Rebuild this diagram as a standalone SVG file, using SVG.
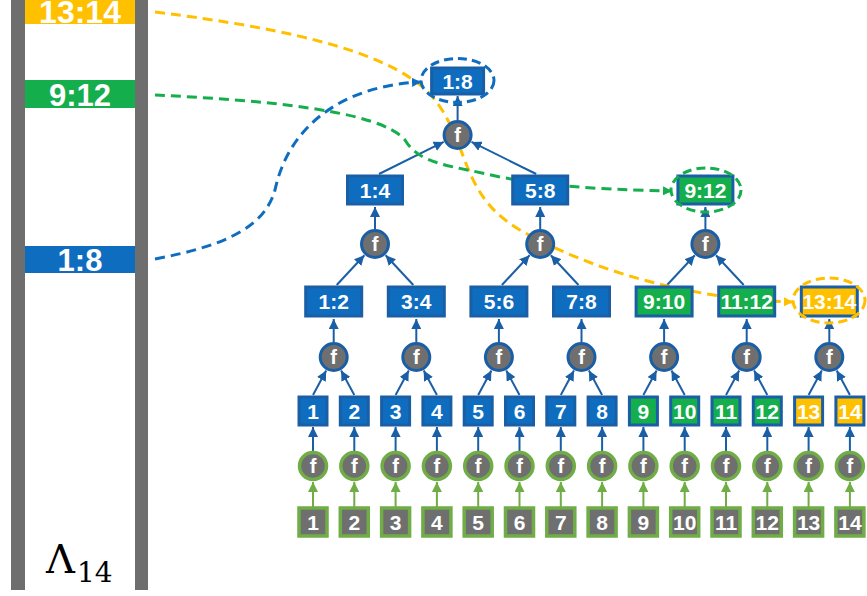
<svg xmlns="http://www.w3.org/2000/svg" width="867" height="596" viewBox="0 0 867 596">
<style>
.bb{fill:#0F6DBF;stroke:#1A5EA6;stroke-width:3}
.bg{fill:#15AE4C;stroke:#1A5EA6;stroke-width:3}
.bo{fill:#FFC000;stroke:#1A5EA6;stroke-width:3}
.bk{fill:#6F6F6F;stroke:#70AD47;stroke-width:3.5}
.fb{fill:#6F6F6F;stroke:#1A5EA6;stroke-width:3}
.fg{fill:#6F6F6F;stroke:#70AD47;stroke-width:3.5}
.t{font-family:"Liberation Sans",Arial,sans-serif;font-weight:bold;fill:#fff;text-anchor:middle}
.s20{font-size:21px}
.s19{font-size:21px}
.sf{font-size:20px}
.e{stroke:#1A5EA6;stroke-width:2;fill:none;marker-end:url(#ab)}
.eg{stroke:#70AD47;stroke-width:2;fill:none;marker-end:url(#ag)}
.d{fill:none;stroke-width:3;stroke-dasharray:10 6}
.el{fill:none;stroke-width:3;stroke-dasharray:9 5}
</style>
<defs>
<marker id="ab" viewBox="0 0 10 10" refX="10" refY="5" markerWidth="10" markerHeight="10" markerUnits="userSpaceOnUse" orient="auto"><path d="M0,0 L10,5 L0,10 z" fill="#1A5EA6"/></marker>
<marker id="ag" viewBox="0 0 10 10" refX="10" refY="5" markerWidth="10" markerHeight="10" markerUnits="userSpaceOnUse" orient="auto"><path d="M0,0 L10,5 L0,10 z" fill="#70AD47"/></marker>
<marker id="mdb" viewBox="0 0 10 10" refX="10" refY="5" markerWidth="9" markerHeight="9" markerUnits="userSpaceOnUse" orient="auto"><path d="M0,0 L10,5 L0,10 z" fill="#0F6DBF"/></marker>
<marker id="mdg" viewBox="0 0 10 10" refX="10" refY="5" markerWidth="9" markerHeight="9" markerUnits="userSpaceOnUse" orient="auto"><path d="M0,0 L10,5 L0,10 z" fill="#15AE4C"/></marker>
<marker id="mdo" viewBox="0 0 10 10" refX="10" refY="5" markerWidth="9" markerHeight="9" markerUnits="userSpaceOnUse" orient="auto"><path d="M0,0 L10,5 L0,10 z" fill="#FFC000"/></marker>
</defs>

<g id="memory">
<rect x="11" y="0" width="14" height="590" fill="#6E6E6E"/>
<rect x="135" y="0" width="13" height="590" fill="#6E6E6E"/>
<rect x="25" y="0" width="110" height="24" fill="#FFC000"/>
<text class="t" x="80" y="23" font-size="32">13:14</text>
<rect x="25" y="80" width="110" height="28" fill="#15AE4C"/>
<text class="t" x="80" y="106" font-size="31">9:12</text>
<rect x="25" y="246" width="110" height="27" fill="#0F6DBF"/>
<text class="t" x="80" y="271" font-size="31">1:8</text>
<text x="46" y="573" font-family="'DejaVu Serif','Liberation Serif',serif" font-size="40" fill="#000">Λ</text>
<text x="77" y="582" font-family="'DejaVu Serif','Liberation Serif',serif" font-size="28" fill="#000">14</text>
</g>

<g id="edges">
<line class="e" x1="313" y1="451" x2="313" y2="427"/>
<line class="e" x1="354.3" y1="451" x2="354.3" y2="427"/>
<line class="e" x1="395.6" y1="451" x2="395.6" y2="427"/>
<line class="e" x1="436.9" y1="451" x2="436.9" y2="427"/>
<line class="e" x1="478.2" y1="451" x2="478.2" y2="427"/>
<line class="e" x1="519.5" y1="451" x2="519.5" y2="427"/>
<line class="e" x1="560.8" y1="451" x2="560.8" y2="427"/>
<line class="e" x1="602.1" y1="451" x2="602.1" y2="427"/>
<line class="e" x1="643.4" y1="451" x2="643.4" y2="427"/>
<line class="e" x1="684.7" y1="451" x2="684.7" y2="427"/>
<line class="e" x1="726" y1="451" x2="726" y2="427"/>
<line class="e" x1="767.3" y1="451" x2="767.3" y2="427"/>
<line class="e" x1="808.6" y1="451" x2="808.6" y2="427"/>
<line class="e" x1="849.9" y1="451" x2="849.9" y2="427"/>
<line class="eg" x1="313" y1="507" x2="313" y2="482"/>
<line class="eg" x1="354.3" y1="507" x2="354.3" y2="482"/>
<line class="eg" x1="395.6" y1="507" x2="395.6" y2="482"/>
<line class="eg" x1="436.9" y1="507" x2="436.9" y2="482"/>
<line class="eg" x1="478.2" y1="507" x2="478.2" y2="482"/>
<line class="eg" x1="519.5" y1="507" x2="519.5" y2="482"/>
<line class="eg" x1="560.8" y1="507" x2="560.8" y2="482"/>
<line class="eg" x1="602.1" y1="507" x2="602.1" y2="482"/>
<line class="eg" x1="643.4" y1="507" x2="643.4" y2="482"/>
<line class="eg" x1="684.7" y1="507" x2="684.7" y2="482"/>
<line class="eg" x1="726" y1="507" x2="726" y2="482"/>
<line class="eg" x1="767.3" y1="507" x2="767.3" y2="482"/>
<line class="eg" x1="808.6" y1="507" x2="808.6" y2="482"/>
<line class="eg" x1="849.9" y1="507" x2="849.9" y2="482"/>
<line class="e" x1="313" y1="395" x2="326.2" y2="370.6"/>
<line class="e" x1="354.3" y1="395" x2="341.1" y2="370.6"/>
<line class="e" x1="395.6" y1="395" x2="408.8" y2="370.6"/>
<line class="e" x1="436.9" y1="395" x2="423.7" y2="370.6"/>
<line class="e" x1="478.2" y1="395" x2="491.4" y2="370.6"/>
<line class="e" x1="519.5" y1="395" x2="506.3" y2="370.6"/>
<line class="e" x1="560.8" y1="395" x2="574" y2="370.6"/>
<line class="e" x1="602.1" y1="395" x2="588.9" y2="370.6"/>
<line class="e" x1="643.4" y1="395" x2="656.6" y2="370.6"/>
<line class="e" x1="684.7" y1="395" x2="671.5" y2="370.6"/>
<line class="e" x1="726" y1="395" x2="739.2" y2="370.6"/>
<line class="e" x1="767.3" y1="395" x2="754.1" y2="370.6"/>
<line class="e" x1="808.6" y1="395" x2="821.8" y2="370.6"/>
<line class="e" x1="849.9" y1="395" x2="836.7" y2="370.6"/>
<line class="e" x1="333.7" y1="342" x2="333.7" y2="319"/>
<line class="e" x1="416.3" y1="342" x2="416.3" y2="319"/>
<line class="e" x1="498.9" y1="342" x2="498.9" y2="319"/>
<line class="e" x1="581.5" y1="342" x2="581.5" y2="319"/>
<line class="e" x1="664.1" y1="342" x2="664.1" y2="319"/>
<line class="e" x1="746.7" y1="342" x2="746.7" y2="319"/>
<line class="e" x1="829.3" y1="342" x2="829.3" y2="319"/>
<line class="e" x1="336.7" y1="285" x2="364.4" y2="255.3"/>
<line class="e" x1="413.3" y1="285" x2="385.6" y2="255.3"/>
<line class="e" x1="501.9" y1="285" x2="529.6" y2="255.3"/>
<line class="e" x1="578.5" y1="285" x2="550.8" y2="255.3"/>
<line class="e" x1="667.1" y1="285" x2="694.8" y2="255.3"/>
<line class="e" x1="743.7" y1="285" x2="716" y2="255.3"/>
<line class="e" x1="375" y1="229" x2="375" y2="207"/>
<line class="e" x1="540.2" y1="229" x2="540.2" y2="207"/>
<line class="e" x1="705.4" y1="229" x2="705.4" y2="207"/>
<line class="e" x1="379" y1="174" x2="443.7" y2="141.9"/>
<line class="e" x1="536.2" y1="174" x2="471.5" y2="141.9"/>
<line class="e" x1="457.6" y1="120" x2="457.6" y2="96"/>
</g>

<g id="dashed-links">
<path class="d" stroke="#FFC000" marker-end="url(#mdo)" d="M155,12 C300,30 400,55 435,100 C470,145 460,195 520,230 C600,275 700,300 793,302"/>
<path class="d" stroke="#15AE4C" marker-end="url(#mdg)" d="M155,95 C260,100 380,110 405,140 C420,165 450,165 500,177 C560,188 620,190 672,191"/>
<path class="d" stroke="#0F6DBF" marker-end="url(#mdb)" d="M155,259 C230,245 265,225 275,190 C290,120 350,85 421,82"/>
</g>

<g id="in1"><rect class="bk" x="299" y="508" width="28" height="28"/><text class="t s20" x="313" y="529.5">1</text></g>
<g id="in2"><rect class="bk" x="340.3" y="508" width="28" height="28"/><text class="t s20" x="354.3" y="529.5">2</text></g>
<g id="in3"><rect class="bk" x="381.6" y="508" width="28" height="28"/><text class="t s20" x="395.6" y="529.5">3</text></g>
<g id="in4"><rect class="bk" x="422.9" y="508" width="28" height="28"/><text class="t s20" x="436.9" y="529.5">4</text></g>
<g id="in5"><rect class="bk" x="464.2" y="508" width="28" height="28"/><text class="t s20" x="478.2" y="529.5">5</text></g>
<g id="in6"><rect class="bk" x="505.5" y="508" width="28" height="28"/><text class="t s20" x="519.5" y="529.5">6</text></g>
<g id="in7"><rect class="bk" x="546.8" y="508" width="28" height="28"/><text class="t s20" x="560.8" y="529.5">7</text></g>
<g id="in8"><rect class="bk" x="588.1" y="508" width="28" height="28"/><text class="t s20" x="602.1" y="529.5">8</text></g>
<g id="in9"><rect class="bk" x="629.4" y="508" width="28" height="28"/><text class="t s20" x="643.4" y="529.5">9</text></g>
<g id="in10"><rect class="bk" x="670.7" y="508" width="28" height="28"/><text class="t s20" x="684.7" y="529.5">10</text></g>
<g id="in11"><rect class="bk" x="712" y="508" width="28" height="28"/><text class="t s20" x="726" y="529.5">11</text></g>
<g id="in12"><rect class="bk" x="753.3" y="508" width="28" height="28"/><text class="t s20" x="767.3" y="529.5">12</text></g>
<g id="in13"><rect class="bk" x="794.6" y="508" width="28" height="28"/><text class="t s20" x="808.6" y="529.5">13</text></g>
<g id="in14"><rect class="bk" x="835.9" y="508" width="28" height="28"/><text class="t s20" x="849.9" y="529.5">14</text></g>

<g id="f0-1"><circle class="fg" cx="313" cy="466" r="13.5"/><text class="t sf" x="313" y="473">f</text></g>
<g id="f0-2"><circle class="fg" cx="354.3" cy="466" r="13.5"/><text class="t sf" x="354.3" y="473">f</text></g>
<g id="f0-3"><circle class="fg" cx="395.6" cy="466" r="13.5"/><text class="t sf" x="395.6" y="473">f</text></g>
<g id="f0-4"><circle class="fg" cx="436.9" cy="466" r="13.5"/><text class="t sf" x="436.9" y="473">f</text></g>
<g id="f0-5"><circle class="fg" cx="478.2" cy="466" r="13.5"/><text class="t sf" x="478.2" y="473">f</text></g>
<g id="f0-6"><circle class="fg" cx="519.5" cy="466" r="13.5"/><text class="t sf" x="519.5" y="473">f</text></g>
<g id="f0-7"><circle class="fg" cx="560.8" cy="466" r="13.5"/><text class="t sf" x="560.8" y="473">f</text></g>
<g id="f0-8"><circle class="fg" cx="602.1" cy="466" r="13.5"/><text class="t sf" x="602.1" y="473">f</text></g>
<g id="f0-9"><circle class="fg" cx="643.4" cy="466" r="13.5"/><text class="t sf" x="643.4" y="473">f</text></g>
<g id="f0-10"><circle class="fg" cx="684.7" cy="466" r="13.5"/><text class="t sf" x="684.7" y="473">f</text></g>
<g id="f0-11"><circle class="fg" cx="726" cy="466" r="13.5"/><text class="t sf" x="726" y="473">f</text></g>
<g id="f0-12"><circle class="fg" cx="767.3" cy="466" r="13.5"/><text class="t sf" x="767.3" y="473">f</text></g>
<g id="f0-13"><circle class="fg" cx="808.6" cy="466" r="13.5"/><text class="t sf" x="808.6" y="473">f</text></g>
<g id="f0-14"><circle class="fg" cx="849.9" cy="466" r="13.5"/><text class="t sf" x="849.9" y="473">f</text></g>

<g id="n1"><rect class="bb" x="299" y="397" width="28" height="28"/><text class="t s20" x="313" y="418.5">1</text></g>
<g id="n2"><rect class="bb" x="340.3" y="397" width="28" height="28"/><text class="t s20" x="354.3" y="418.5">2</text></g>
<g id="n3"><rect class="bb" x="381.6" y="397" width="28" height="28"/><text class="t s20" x="395.6" y="418.5">3</text></g>
<g id="n4"><rect class="bb" x="422.9" y="397" width="28" height="28"/><text class="t s20" x="436.9" y="418.5">4</text></g>
<g id="n5"><rect class="bb" x="464.2" y="397" width="28" height="28"/><text class="t s20" x="478.2" y="418.5">5</text></g>
<g id="n6"><rect class="bb" x="505.5" y="397" width="28" height="28"/><text class="t s20" x="519.5" y="418.5">6</text></g>
<g id="n7"><rect class="bb" x="546.8" y="397" width="28" height="28"/><text class="t s20" x="560.8" y="418.5">7</text></g>
<g id="n8"><rect class="bb" x="588.1" y="397" width="28" height="28"/><text class="t s20" x="602.1" y="418.5">8</text></g>
<g id="n9"><rect class="bg" x="629.4" y="397" width="28" height="28"/><text class="t s20" x="643.4" y="418.5">9</text></g>
<g id="n10"><rect class="bg" x="670.7" y="397" width="28" height="28"/><text class="t s20" x="684.7" y="418.5">10</text></g>
<g id="n11"><rect class="bg" x="712" y="397" width="28" height="28"/><text class="t s20" x="726" y="418.5">11</text></g>
<g id="n12"><rect class="bg" x="753.3" y="397" width="28" height="28"/><text class="t s20" x="767.3" y="418.5">12</text></g>
<g id="n13"><rect class="bo" x="794.6" y="397" width="28" height="28"/><text class="t s20" x="808.6" y="418.5">13</text></g>
<g id="n14"><rect class="bo" x="835.9" y="397" width="28" height="28"/><text class="t s20" x="849.9" y="418.5">14</text></g>

<g id="f1-1"><circle class="fb" cx="333.7" cy="357" r="13.5"/><text class="t sf" x="333.7" y="364">f</text></g>
<g id="f1-2"><circle class="fb" cx="416.3" cy="357" r="13.5"/><text class="t sf" x="416.3" y="364">f</text></g>
<g id="f1-3"><circle class="fb" cx="498.9" cy="357" r="13.5"/><text class="t sf" x="498.9" y="364">f</text></g>
<g id="f1-4"><circle class="fb" cx="581.5" cy="357" r="13.5"/><text class="t sf" x="581.5" y="364">f</text></g>
<g id="f1-5"><circle class="fb" cx="664.1" cy="357" r="13.5"/><text class="t sf" x="664.1" y="364">f</text></g>
<g id="f1-6"><circle class="fb" cx="746.7" cy="357" r="13.5"/><text class="t sf" x="746.7" y="364">f</text></g>
<g id="f1-7"><circle class="fb" cx="829.3" cy="357" r="13.5"/><text class="t sf" x="829.3" y="364">f</text></g>

<g id="n1-2"><rect class="bb" x="305.7" y="287" width="56" height="29"/><text class="t s20" x="333.7" y="309">1:2</text></g>
<g id="n3-4"><rect class="bb" x="388.3" y="287" width="56" height="29"/><text class="t s20" x="416.3" y="309">3:4</text></g>
<g id="n5-6"><rect class="bb" x="470.9" y="287" width="56" height="29"/><text class="t s20" x="498.9" y="309">5:6</text></g>
<g id="n7-8"><rect class="bb" x="553.5" y="287" width="56" height="29"/><text class="t s20" x="581.5" y="309">7:8</text></g>
<g id="n9-10"><rect class="bg" x="636.1" y="287" width="56" height="29"/><text class="t s20" x="664.1" y="309">9:10</text></g>
<g id="n11-12"><rect class="bg" x="718.7" y="287" width="56" height="29"/><text class="t s20" x="746.7" y="309">11:12</text></g>
<g id="n13-14"><rect class="bo" x="801.3" y="287" width="56" height="29"/><text class="t s20" x="829.3" y="309">13:14</text><ellipse class="el" stroke="#FFC000" cx="829" cy="300.5" rx="36" ry="22.5"/></g>

<g id="f2-1"><circle class="fb" cx="375" cy="244" r="13.5"/><text class="t sf" x="375" y="251">f</text></g>
<g id="f2-2"><circle class="fb" cx="540.2" cy="244" r="13.5"/><text class="t sf" x="540.2" y="251">f</text></g>
<g id="f2-3"><circle class="fb" cx="705.4" cy="244" r="13.5"/><text class="t sf" x="705.4" y="251">f</text></g>

<g id="n1-4"><rect class="bb" x="347.5" y="176" width="55" height="28"/><text class="t s19" x="375" y="197.5">1:4</text></g>
<g id="n5-8"><rect class="bb" x="512.7" y="176" width="55" height="28"/><text class="t s19" x="540.2" y="197.5">5:8</text></g>
<g id="n9-12"><rect class="bg" x="677.9" y="176" width="55" height="28"/><text class="t s19" x="705.4" y="197.5">9:12</text><ellipse class="el" stroke="#15AE4C" cx="706" cy="190" rx="35" ry="22"/></g>

<g id="f3"><circle class="fb" cx="457.6" cy="135" r="13.5"/><text class="t sf" x="457.6" y="142">f</text></g>
<g id="n1-8"><rect class="bb" x="431.6" y="68" width="52" height="26"/><text class="t s19" x="457.6" y="88.5">1:8</text><ellipse class="el" stroke="#0F6DBF" cx="457.5" cy="80.5" rx="36.5" ry="22"/></g>
</svg>
